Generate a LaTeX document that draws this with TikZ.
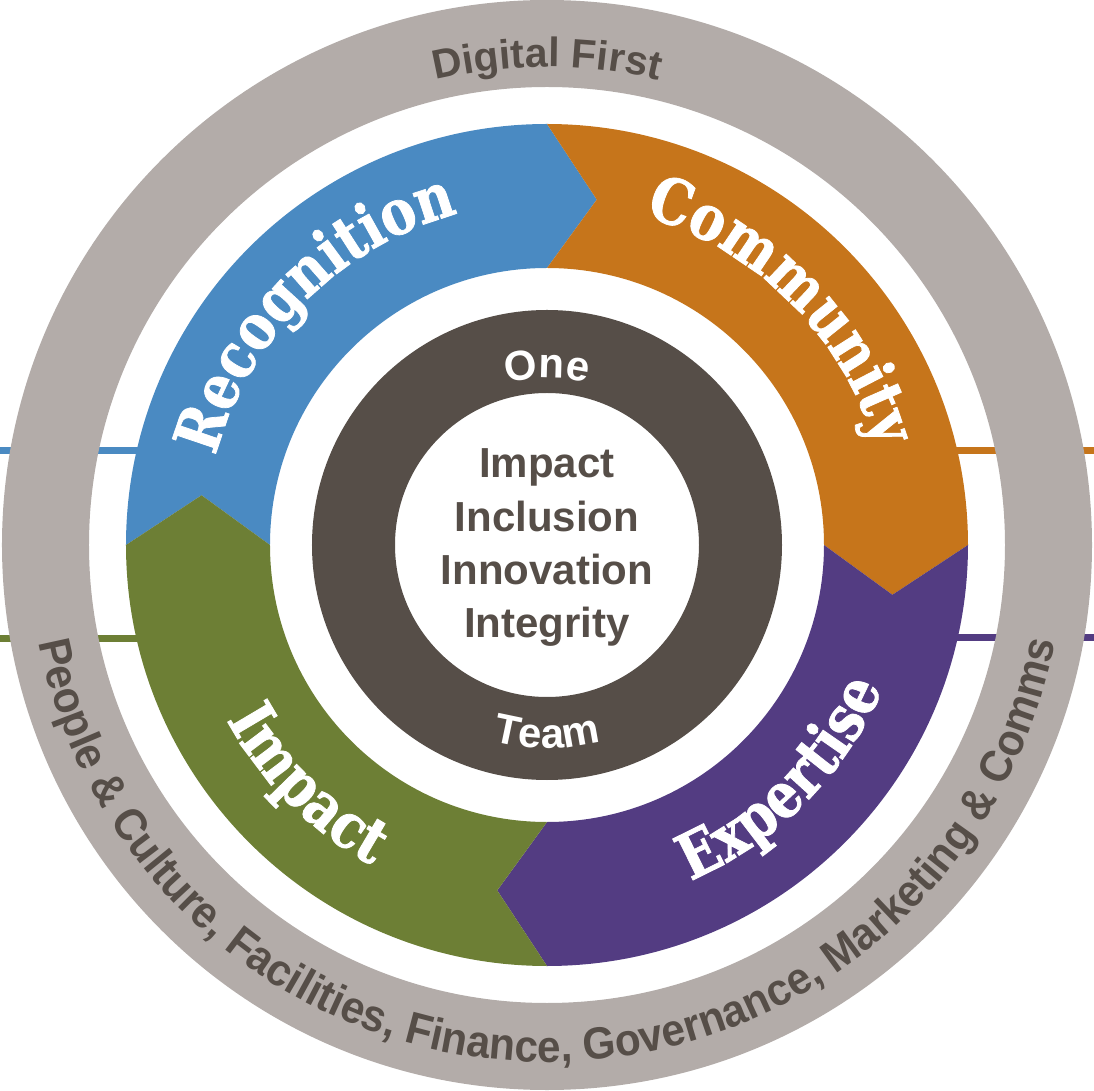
\documentclass[tikz,border=0pt]{standalone}
\usepackage{fontspec}
\usetikzlibrary{decorations.text}
\newfontfamily\slabfont{DejaVu Serif}[FakeStretch=0.84, FakeBold=1.2]
\newfontfamily\grotfont{Liberation Sans}
\newfontfamily\bandgrot{Liberation Sans}[FakeStretch=0.94]
\definecolor{ringgray}{HTML}{B3ACA9}
\definecolor{coredark}{HTML}{564E48}
\definecolor{recblue}{HTML}{4A8AC2}
\definecolor{comorange}{HTML}{C6751B}
\definecolor{impgreen}{HTML}{6D7F35}
\definecolor{exppurple}{HTML}{533C82}
% radii of the pillar ring and the chevron tip offset
\def\Ro{421}\def\Ri{277}\def\Rm{349}\def\dl{8.2}
% one chevron-shaped quarter of the ring: colour, start angle (runs clockwise)
\newcommand\chevseg[2]{%
  \fill[#1] ({#2}:\Ro) arc[start angle={#2}, end angle={#2-90}, radius=\Ro]
    -- ({#2-90-\dl}:\Rm) -- ({#2-90}:\Ri)
    arc[start angle={#2-90}, end angle={#2}, radius=\Ri]
    -- ({#2-\dl}:\Rm) -- cycle;}
\newcommand\segfont{\slabfont\bfseries\fontsize{63}{68}\selectfont\color{white}}
\newcommand\outerfont{\grotfont\bfseries\fontsize{41}{48}\selectfont\color{coredark}}
\newcommand\bandfont{\bandgrot\bfseries\fontsize{45}{50}\selectfont\color{coredark}}
\newcommand\corefont{\grotfont\bfseries\fontsize{42}{48}\selectfont\color{white}}
\tikzset{
  curved/.style={decorate, decoration={text along path, text align=center, text={#1}}},
  link/.style={line width=7pt},
  value/.style={font=\grotfont\bfseries\fontsize{42}{48}\selectfont, text=coredark, anchor=base, inner sep=0pt}
}
\begin{document}
\begin{tikzpicture}[x=1pt, y=1pt]
\useasboundingbox (-547,-546) rectangle (547,545);
% coloured leader lines running out from the pillars
\coordinate (bl0) at (-547,94.5);  \coordinate (bl1) at (-330,94.5);
\coordinate (gl0) at (-547,-93.5); \coordinate (gl1) at (-330,-93.5);
\coordinate (ol0) at (547,94.5);   \coordinate (ol1) at (330,94.5);
\coordinate (pl0) at (547,-92.5);  \coordinate (pl1) at (330,-92.5);
\draw[link, recblue] (bl0) -- (bl1);
\draw[link, impgreen] (gl0) -- (gl1);
\draw[link, comorange] (ol0) -- (ol1);
\draw[link, exppurple] (pl0) -- (pl1);
% outer grey band
\fill[ringgray, even odd rule] (0,0) circle[radius=545] (0,0) circle[radius=458];
% four pillars
\chevseg{recblue}{180}
\chevseg{comorange}{90}
\chevseg{exppurple}{0}
\chevseg{impgreen}{270}
% dark core ring
\fill[coredark, even odd rule] (0,0) circle[radius=235] (0,0) circle[radius=152];
% pillar names
\path[curved={|\segfont|Recognition}] (180:343) arc[start angle=180, end angle=90, radius=343];
\path[curved={|\segfont|Community}] (90:343) arc[start angle=90, end angle=0, radius=343];
\path[curved={|\segfont|Impact}] (180:365) arc[start angle=180, end angle=270, radius=365];
\path[curved={|\segfont|Expertise}] (270:365) arc[start angle=270, end angle=360, radius=365];
% outer band texts
\path[curved={|\outerfont|Digital First}] (180:478) arc[start angle=180, end angle=0, radius=478];
\path[curved={|\bandfont|People {\&} Culture, Facilities, Finance, Governance, Marketing {\&} Comms}] (180:517) arc[start angle=180, end angle=360, radius=517];
% core ring texts
\path[curved={|\corefont|One}] (180:167) arc[start angle=180, end angle=0, radius=167];
\path[curved={|\corefont|Team}] (180:203) arc[start angle=180, end angle=360, radius=203];
% values in the centre
\node[value] (v1) at (0,67) {Impact};
\node[value] (v2) at (0,13) {Inclusion};
\node[value] (v3) at (0,-40) {Innovation};
\node[value] (v4) at (0,-93) {Integrity};
\end{tikzpicture}
\end{document}
